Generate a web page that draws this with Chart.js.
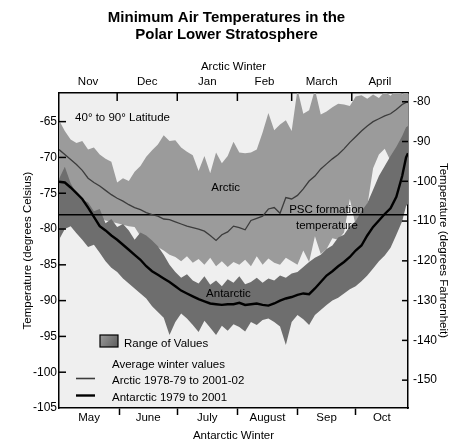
<!DOCTYPE html>
<html>
<head>
<meta charset="utf-8">
<script src="https://cdn.jsdelivr.net/npm/chart.js@4.4.1/dist/chart.umd.min.js"></script>
<style>
  html, body { margin: 0; padding: 0; background: #ffffff; }
  #c { display: block; }
</style>
</head>
<body>
<canvas id="c" width="453" height="446"></canvas>
<script>
// Day of the season (0 = 1 Nov for the Arctic / 1 May for the Antarctic)
const days = [0,3,6,9,12,15,18,21,24,27,30,33,36,39,42,45,48,51,54,57,
  60,63,66,69,72,75,78,81,84,87,90,93,96,99,102,105,108,111,114,117,
  120,123,126,129,132,135,138,141,144,147,150,153,156,159,162,165,168,171,174,177,
  179,180];

// Arctic: range of daily minimum temperatures (°C) and the average winter
const arcticMax = [-64.8,-66.3,-67.5,-68.0,-67.7,-68.9,-68.6,-69.6,-70.2,-70.6,
  -73.5,-72.9,-73.3,-72.0,-71.2,-69.9,-69.0,-68.2,-66.9,-67.7,
  -67.6,-68.6,-69.2,-69.7,-71.9,-69.8,-72.2,-69.3,-70.8,-69.8,
  -67.8,-69.3,-69.4,-69.3,-68.9,-66.5,-63.8,-66.2,-65.4,-64.8,
  -66.3,-60.5,-63.9,-63.4,-60.5,-64.0,-63.6,-63.0,-62.5,-62.6,
  -62.8,-61.5,-61.3,-61.8,-61.2,-61.7,-60.8,-61.4,-60.5,-61.2,
  -60.8,-61.0];
const arcticMin = [-76.0,-76.5,-77.0,-77.0,-77.5,-77.8,-78.0,-78.3,-78.8,-79.0,
  -79.2,-79.4,-79.6,-79.7,-81.0,-81.5,-82.0,-82.5,-83.0,-83.6,
  -83.9,-84.5,-83.8,-84.7,-84.2,-85.0,-84.0,-85.2,-84.5,-85.3,
  -84.6,-85.0,-84.3,-85.2,-83.8,-85.0,-84.1,-84.7,-85.0,-84.0,
  -84.5,-85.0,-83.0,-84.6,-81.0,-83.5,-82.8,-81.3,-81.5,-80.5,
  -75.8,-79.5,-77.8,-76.8,-71.5,-69.6,-68.8,-70.5,-69.5,-68.5,
  -67.5,-67.0];
const arcticMean = [-68.9,-69.6,-70.3,-71.0,-71.8,-72.9,-73.5,-74.0,-74.6,-75.2,
  -75.7,-76.1,-76.6,-77.0,-77.3,-77.7,-78.0,-78.2,-78.6,-78.7,
  -79.0,-79.3,-79.6,-79.8,-80.0,-80.3,-80.9,-81.6,-80.8,-80.4,
  -79.6,-79.8,-80.1,-78.8,-78.5,-78.2,-77.2,-77.0,-77.8,-75.6,
  -75.8,-75.3,-74.4,-73.3,-72.6,-71.6,-70.9,-70.2,-69.6,-68.8,
  -67.9,-67.1,-66.3,-65.6,-65.0,-64.6,-64.2,-63.9,-63.3,-62.6,
  -62.3,-62.3];

// Antarctic: range of daily minimum temperatures (°C) and the average winter
const antarcticMax = [-73.0,-71.3,-73.6,-75.0,-75.9,-76.3,-77.5,-77.2,-79.2,-78.6,
  -79.7,-79.3,-80.2,-81.5,-80.5,-80.9,-81.6,-82.4,-83.6,-85.0,
  -86.0,-86.8,-86.3,-87.2,-87.6,-86.6,-87.8,-87.2,-88.0,-87.0,
  -87.5,-86.6,-87.7,-87.4,-86.8,-87.5,-86.9,-87.2,-86.5,-86.8,
  -86.2,-86.0,-85.3,-84.6,-84.0,-83.6,-82.8,-82.3,-81.2,-80.8,
  -79.6,-78.9,-77.5,-76.4,-74.5,-72.6,-71.2,-69.8,-68.5,-67.0,
  -65.8,-65.6];
const antarcticMin = [-81.5,-80.0,-79.6,-80.6,-81.5,-82.5,-82.2,-83.3,-84.5,-85.4,
  -86.0,-86.9,-87.6,-88.3,-89.0,-89.7,-90.8,-91.6,-92.4,-94.8,
  -93.0,-91.8,-92.5,-93.4,-94.4,-92.8,-93.8,-94.8,-93.5,-94.2,
  -93.3,-93.7,-94.3,-93.0,-93.4,-92.7,-92.5,-93.0,-93.6,-96.2,
  -93.0,-92.0,-92.6,-93.4,-92.0,-91.3,-90.6,-90.0,-89.6,-89.0,
  -88.4,-88.0,-87.3,-86.5,-85.5,-84.5,-83.7,-82.6,-80.8,-78.9,
  -76.8,-76.5];
const antarcticMean = [-73.4,-73.5,-74.2,-75.0,-75.8,-77.0,-78.3,-79.6,-80.2,-80.9,
  -81.5,-82.2,-82.9,-83.6,-84.3,-85.2,-85.9,-86.4,-86.9,-87.4,
  -88.0,-88.6,-89.0,-89.4,-89.8,-90.1,-90.4,-90.5,-90.6,-90.5,
  -90.5,-90.3,-90.6,-90.5,-90.4,-90.6,-90.7,-90.4,-90.0,-89.7,
  -89.5,-89.2,-89.0,-89.1,-88.3,-87.4,-86.5,-85.9,-85.2,-84.6,
  -83.9,-83.0,-82.3,-80.9,-79.7,-78.8,-77.9,-77.1,-75.5,-72.6,
  -70.0,-69.4];

// Polar stratospheric cloud formation threshold (°C)
const pscTemp = -78;

// Axis labels
const arcticMonths = ['Nov', 'Dec', 'Jan', 'Feb', 'March', 'April'];
const arcticMonthStarts = [0, 30, 61, 92, 120, 151, 180];
const antarcticMonths = ['May', 'June', 'July', 'August', 'Sep', 'Oct'];
const antarcticMonthStarts = [0, 31, 61, 92, 123, 153, 180];
const celsiusTicks = [-105, -100, -95, -90, -85, -80, -75, -70, -65];
const fahrenheitTicks = [-150, -140, -130, -120, -110, -100, -90, -80];

const tempMin = -105, tempMax = -61, seasonDays = 180;
const cToF = c => c * 9 / 5 + 32;

const mids = starts => starts.slice(0, -1).map((s, i) => (s + starts[i + 1]) / 2);
const arcticMids = mids(arcticMonthStarts);
const antarcticMids = mids(antarcticMonthStarts);
const innerBounds = starts => starts.slice(1, -1);

const FONT = '"Liberation Sans", Arial, Helvetica, sans-serif';
Chart.defaults.font.family = FONT;
Chart.defaults.color = '#000';

const pts = vals => days.map((d, i) => ({ x: d, y: vals[i] }));
const noLine = { borderWidth: 0, borderColor: 'rgba(0,0,0,0)', pointRadius: 0, tension: 0 };

// Light plot background
const plotBackground = {
  id: 'plotBackground',
  beforeDraw(chart) {
    const { ctx, chartArea: a } = chart;
    ctx.save();
    ctx.fillStyle = '#efefef';
    ctx.fillRect(a.left, a.top, a.right - a.left, a.bottom - a.top);
    ctx.restore();
  }
};

// Tick marks that point into the plot (left, right and top axes)
const inwardTicks = {
  id: 'inwardTicks',
  afterDraw(chart) {
    const { ctx, chartArea: a, scales } = chart;
    ctx.save();
    ctx.strokeStyle = '#000';
    ctx.lineWidth = 1.5;
    const seg = (x1, y1, x2, y2) => { ctx.beginPath(); ctx.moveTo(x1, y1); ctx.lineTo(x2, y2); ctx.stroke(); };
    celsiusTicks.slice(1).forEach(v => { const y = scales.y.getPixelForValue(v); seg(a.left, y, a.left + 7, y); });
    fahrenheitTicks.forEach(v => { const y = scales.y2.getPixelForValue(v); seg(a.right - 6, y, a.right, y); });
    innerBounds(arcticMonthStarts).forEach(v => { const x = scales.x2.getPixelForValue(v); seg(x, a.top, x, a.top + 8); });
    ctx.restore();
  }
};

// In-plot labels and the key
const plotNotes = {
  id: 'plotNotes',
  afterDraw(chart) {
    const { ctx, chartArea: a, scales: { x, y } } = chart;
    ctx.save();
    ctx.fillStyle = '#000';
    ctx.font = '11.5px ' + FONT;
    ctx.textBaseline = 'middle';
    const put = (t, d, c, align) => { ctx.textAlign = align || 'center'; ctx.fillText(t, x.getPixelForValue(d), y.getPixelForValue(c)); };
    put('40° to 90° Latitude', 8.3, -64.5, 'left');
    put('Arctic', 86, -74.3);
    put('PSC formation', 138, -77.3);
    put('temperature', 138.2, -79.6);
    put('Antarctic', 87.4, -89.0);

    // key
    const L = a.left, B = a.bottom;
    const g = ctx.createLinearGradient(L + 41, B - 73, L + 59, B - 61);
    g.addColorStop(0, '#9a9a9a');
    g.addColorStop(1, '#5c5c5c');
    ctx.fillStyle = g;
    ctx.fillRect(L + 41, B - 73, 18, 12);
    ctx.strokeStyle = '#000';
    ctx.lineWidth = 1.2;
    ctx.strokeRect(L + 41, B - 73, 18, 12);

    ctx.fillStyle = '#000';
    ctx.textAlign = 'left';
    ctx.fillText('Range of Values', L + 65, B - 64);
    ctx.fillText('Average winter values', L + 53, B - 43);
    ctx.fillText('Arctic 1978-79 to 2001-02', L + 53, B - 27);
    ctx.fillText('Antarctic 1979 to 2001', L + 53, B - 10);

    ctx.strokeStyle = '#3c3c3c';
    ctx.lineWidth = 1.6;
    ctx.beginPath(); ctx.moveTo(L + 17, B - 29.5); ctx.lineTo(L + 36, B - 29.5); ctx.stroke();
    ctx.strokeStyle = '#000';
    ctx.lineWidth = 2.4;
    ctx.beginPath(); ctx.moveTo(L + 17, B - 12.5); ctx.lineTo(L + 36, B - 12.5); ctx.stroke();
    ctx.restore();
  }
};

new Chart(document.getElementById('c'), {
  type: 'line',
  data: {
    datasets: [
      { label: 'Antarctic 1979 to 2001', data: pts(antarcticMean), borderColor: '#000', borderWidth: 2.4, pointRadius: 0, tension: 0, fill: false },
      { label: 'Arctic 1978-79 to 2001-02', data: pts(arcticMean), borderColor: '#3c3c3c', borderWidth: 1.3, pointRadius: 0, tension: 0, fill: false },
      { label: 'PSC formation temperature', data: [{ x: 0, y: pscTemp }, { x: seasonDays, y: pscTemp }], borderColor: '#000', borderWidth: 1.5, pointRadius: 0, fill: false },
      { label: 'Antarctic range', data: pts(antarcticMax), backgroundColor: '#6e6e6e', fill: '+1', ...noLine },
      { label: 'Antarctic range min', data: pts(antarcticMin), fill: false, ...noLine },
      { label: 'Arctic range', data: pts(arcticMax), backgroundColor: '#9b9b9b', fill: '+1', ...noLine },
      { label: 'Arctic range min', data: pts(arcticMin), fill: false, ...noLine }
    ]
  },
  options: {
    responsive: false,
    animation: false,
    devicePixelRatio: 1,
    layout: { padding: 0 },
    plugins: {
      legend: { display: false },
      tooltip: { enabled: false },
      title: {
        display: true,
        text: ['Minimum Air Temperatures in the', 'Polar Lower Stratosphere'],
        font: { size: 15, weight: 'bold', lineHeight: 1.15 },
        color: '#000',
        padding: { top: 9, bottom: 0 }
      }
    },
    scales: {
      x: {
        type: 'linear', position: 'bottom', min: 0, max: seasonDays,
        afterBuildTicks: s => { s.ticks = innerBounds(antarcticMonthStarts).concat(antarcticMids).map(v => ({ value: v })); },
        ticks: {
          autoSkip: false, maxRotation: 0, padding: -4, font: { size: 11.5 }, color: '#000',
          callback: v => { const k = antarcticMids.indexOf(v); return k >= 0 ? antarcticMonths[k] : ''; }
        },
        grid: {
          drawOnChartArea: false, drawTicks: true, tickLength: 7, tickWidth: 1.5,
          tickColor: c => (c.tick && antarcticMids.indexOf(c.tick.value) < 0) ? '#000' : 'rgba(0,0,0,0)'
        },
        border: { display: true, color: '#000', width: 1.5 },
        title: { display: true, text: 'Antarctic Winter', font: { size: 11.5 }, color: '#000', padding: { top: 0, bottom: 3 } },
        afterFit: s => { s.height = 38; }
      },
      x2: {
        type: 'linear', position: 'top', min: 0, max: seasonDays,
        afterBuildTicks: s => { s.ticks = arcticMids.map(v => ({ value: v })); },
        ticks: {
          autoSkip: false, maxRotation: 0, padding: 4, font: { size: 11.5 }, color: '#000',
          callback: v => { const k = arcticMids.indexOf(v); return k >= 0 ? arcticMonths[k] : ''; }
        },
        grid: { drawOnChartArea: false, drawTicks: false },
        border: { display: true, color: '#000', width: 1.5 },
        title: { display: true, text: 'Arctic Winter', font: { size: 11.5 }, color: '#000', padding: { top: 16, bottom: 0 } },
        afterFit: s => { s.height = 49.5; }
      },
      y: {
        type: 'linear', position: 'left', min: tempMin, max: tempMax,
        afterBuildTicks: s => { s.ticks = celsiusTicks.map(v => ({ value: v })); },
        ticks: { padding: 2, font: { size: 12 }, color: '#000' },
        grid: { drawOnChartArea: false, drawTicks: false },
        border: { display: true, color: '#000', width: 1.5 },
        title: { display: true, text: 'Temperature (degrees Celsius)', font: { size: 11.5 }, color: '#000', padding: { top: 20.5, bottom: 0 } },
        afterFit: s => { s.width = 59; }
      },
      y2: {
        type: 'linear', position: 'right', min: cToF(tempMin), max: cToF(tempMax),
        afterBuildTicks: s => { s.ticks = fahrenheitTicks.map(v => ({ value: v })); },
        ticks: { padding: 5, font: { size: 12 }, color: '#000' },
        grid: { drawOnChartArea: false, drawTicks: false },
        border: { display: true, color: '#000', width: 1.5 },
        title: { display: true, text: 'Temperature (degrees Fahrenheit)', font: { size: 11.5 }, color: '#000', padding: { top: 3, bottom: 0 } },
        afterFit: s => { s.width = 45; }
      }
    }
  },
  plugins: [plotBackground, inwardTicks, plotNotes]
});
</script>
</body>
</html>
